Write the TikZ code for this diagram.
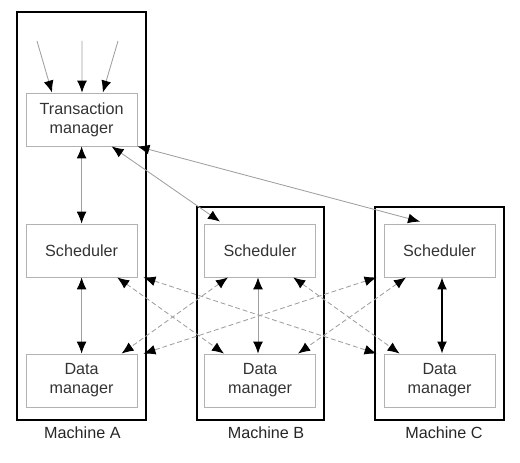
\documentclass[tikz,border=0pt]{standalone}
\usepackage{fontspec}
\setmainfont{Liberation Sans}
\usepackage{xcolor}
\usetikzlibrary{arrows.meta}

\begin{document}
\begin{tikzpicture}[
	box/.style={draw=gray!60, line width=0.6pt, minimum width=2.775cm, minimum height=1.325cm, align=center, text=black!80, font=\fontsize{11.5}{13.5}\selectfont},
	machine/.style={draw, line width=1.4pt},
	lbl/.style={text=black!85, font=\fontsize{11.5}{13.5}\selectfont},
	feed/.style={draw=gray!75, line width=0.6pt, -{Latex[length=8.5pt,width=7pt,color=black]}},
	link/.style={draw=gray!75, line width=0.6pt, {Latex[length=8.5pt,width=7pt,color=black]}-{Latex[length=8.5pt,width=7pt,color=black]}},
	strong/.style={link, draw=black, line width=0.9pt},
	remote/.style={link, dash pattern=on 3.5pt off 2pt},
	]
	\useasboundingbox (0,0) rectangle (13,11.55);
	\draw[machine] (0.425,1.05) rectangle (3.65,11.25);
	\draw[machine] (4.925,1.05) rectangle (8.1,6.375);
	\draw[machine] (9.375,1.05) rectangle (12.6,6.375);
	\node[box] (tm) at (2.04,8.5625) {Transaction\\manager};
	\node[box] (sa) at (2.04,5.2875) {Scheduler};
	\node[box] (da) at (2.04,2.0375) {Data\\manager};
	\node[box] (sb) at (6.5,5.2875) {Scheduler};
	\node[box] (db) at (6.5,2.0375) {Data\\manager};
	\node[box] (sc) at (10.99,5.2875) {Scheduler};
	\node[box] (dc) at (10.99,2.0375) {Data\\manager};
	\node[lbl] (ma) at (2.06,0.725) {Machine A};
	\node[lbl] (mb) at (6.65,0.725) {Machine B};
	\node[lbl] (mc) at (11.1,0.725) {Machine C};
	\coordinate (in1) at (0.925,10.525);
	\coordinate (in2) at (2.05,10.525);
	\coordinate (in3) at (2.95,10.525);
	\draw[feed] (in1) -- ([xshift=-0.74cm]tm.north);
	\draw[feed] (in2) -- ([xshift=0.01cm]tm.north);
	\draw[feed] (in3) -- ([xshift=0.53cm]tm.north);
	\draw[link] (tm) -- (sa);
	\draw[link] ([xshift=0.75cm]tm.south) -- ([xshift=-1cm,yshift=0.05cm]sb.north);
	\draw[link] (tm.south east) -- ([xshift=-0.49cm,yshift=0.05cm]sc.north);
	\draw[link] (sa) -- (da);
	\draw[link] ([xshift=-0.05cm]sb.south) -- ([xshift=-0.05cm]db.north);
	\draw[strong] ([xshift=0.06cm]sc.south) -- ([xshift=0.06cm]dc.north);
	\draw[remote] ([xshift=0.89cm]sa.south) -- ([xshift=-0.9cm]db.north);
	\draw[remote] ([xshift=0.15cm]sa.south east) -- ([xshift=-0.18cm]dc.north west);
	\draw[remote] ([xshift=-0.8cm]sb.south) -- ([xshift=1cm]da.north);
	\draw[remote] ([xshift=0.83cm]sb.south) -- ([xshift=-1cm]dc.north);
	\draw[remote] ([xshift=-0.18cm]sc.south west) -- ([xshift=0.15cm]da.north east);
	\draw[remote] ([xshift=-0.84cm]sc.south) -- ([xshift=0.95cm]db.north);
\end{tikzpicture}
\end{document}
